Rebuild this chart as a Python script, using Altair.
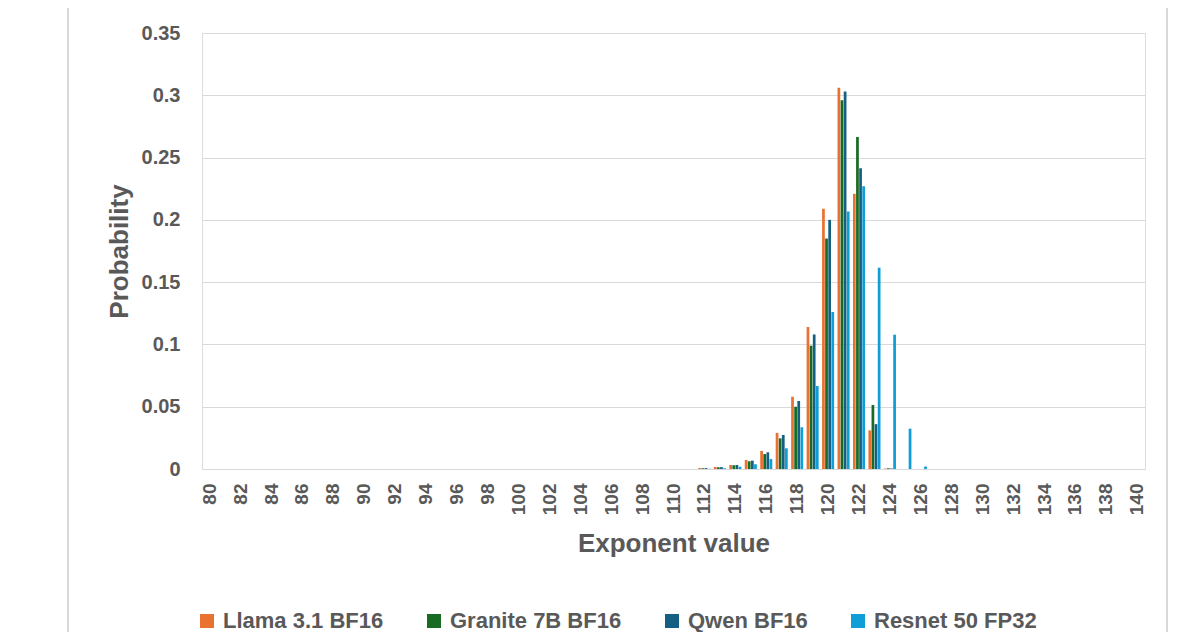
import altair as alt
import pandas as pd

# categories (exponent values on the x axis)
exponents = list(range(80, 141))
series_names = ["Llama 3.1 BF16", "Granite 7B BF16", "Qwen BF16", "Resnet 50 FP32"]
series_colors = ["#E97132", "#196B24", "#156082", "#0F9ED5"]

# exponents where any series is non-zero (all others are 0)
active_exps = [112, 113, 114, 115, 116, 117, 118, 119, 120, 121, 122, 123, 124, 125, 126]
llama = [0.0008, 0.0016, 0.0032, 0.0072, 0.0145, 0.029, 0.058, 0.114, 0.209, 0.306, 0.221, 0.031, 0.0004, 0.0, 0.0]
granite = [0.0006, 0.0014, 0.003, 0.0062, 0.012, 0.0246, 0.050, 0.099, 0.185, 0.296, 0.2665, 0.0514, 0.0006, 0.0, 0.0]
qwen = [0.0007, 0.0015, 0.0032, 0.0067, 0.0134, 0.0273, 0.0546, 0.108, 0.200, 0.303, 0.2414, 0.036, 0.0004, 0.0, 0.0]
resnet = [0.0002, 0.0006, 0.0018, 0.0038, 0.008, 0.0166, 0.0335, 0.0666, 0.126, 0.2068, 0.2269, 0.1616, 0.1078, 0.0324, 0.002]

y_ticks = [0, 0.05, 0.1, 0.15, 0.2, 0.25, 0.3, 0.35]
x_ticks = list(range(80, 141, 2))

rows = []
for name, vals in zip(series_names, [llama, granite, qwen, resnet]):
    lookup = dict(zip(active_exps, vals))
    for e in exponents:
        rows.append({"exp": e, "series": name, "p": lookup.get(e, 0.0)})
df = pd.DataFrame(rows)

TXT = "#595959"
FONT = "Liberation Sans"

bars = alt.Chart(df).mark_bar().encode(
    x=alt.X("exp:O", sort=exponents,
            scale=alt.Scale(domain=exponents, paddingInner=0.22, paddingOuter=0.11),
            axis=alt.Axis(values=x_ticks, labelAngle=270, title="Exponent value",
                          domain=False, ticks=False, grid=False,
                          labelFont=FONT, labelFontSize=19, labelFontWeight="bold",
                          labelColor=TXT, labelPadding=14,
                          titleFont=FONT, titleFontSize=26, titleFontWeight="bold",
                          titleColor=TXT, titlePadding=16)),
    xOffset=alt.XOffset("series:N", sort=series_names,
                        scale=alt.Scale(domain=series_names, paddingInner=0.12)),
    y=alt.Y("p:Q", scale=alt.Scale(domain=[0, 0.35], nice=False),
            axis=alt.Axis(values=y_ticks, format="~g", title="Probability",
                          domain=False, ticks=False, grid=True,
                          gridColor="#D9D9D9", gridWidth=1,
                          labelFont=FONT, labelFontSize=20, labelFontWeight="bold",
                          labelColor=TXT, labelPadding=22,
                          titleFont=FONT, titleFontSize=26, titleFontWeight="bold",
                          titleColor=TXT, titlePadding=9)),
    color=alt.Color("series:N", sort=series_names,
                    scale=alt.Scale(domain=series_names, range=series_colors),
                    legend=alt.Legend(orient="none", legendX=-6, legendY=577,
                                      direction="horizontal", title=None,
                                      symbolType="square", symbolSize=196,
                                      symbolStrokeWidth=0, labelOffset=5,
                                      columnPadding=39, padding=0,
                                      labelFont=FONT, labelFontSize=22,
                                      labelFontWeight="bold", labelColor=TXT,
                                      labelLimit=400)),
)

frame_df = pd.DataFrame({"side": ["left", "right"]})
frame_left = alt.Chart(frame_df.iloc[[0]]).mark_rule(color="#D9D9D9", strokeWidth=2).encode(
    x=alt.value(-134), y=alt.value(-40), y2=alt.value(700))
frame_right = alt.Chart(frame_df.iloc[[1]]).mark_rule(color="#D9D9D9", strokeWidth=2).encode(
    x=alt.value(965), y=alt.value(-40), y2=alt.value(700))

chart = alt.layer(bars, frame_left, frame_right).properties(
    width=943, height=436,
    autosize=alt.AutoSizeParams(type="none"),
    padding={"left": 194, "top": 25, "right": 43, "bottom": 163},
).configure_view(stroke=None).configure(background="white")

chart.save("out.html", embed_options={"renderer": "svg", "actions": False})
